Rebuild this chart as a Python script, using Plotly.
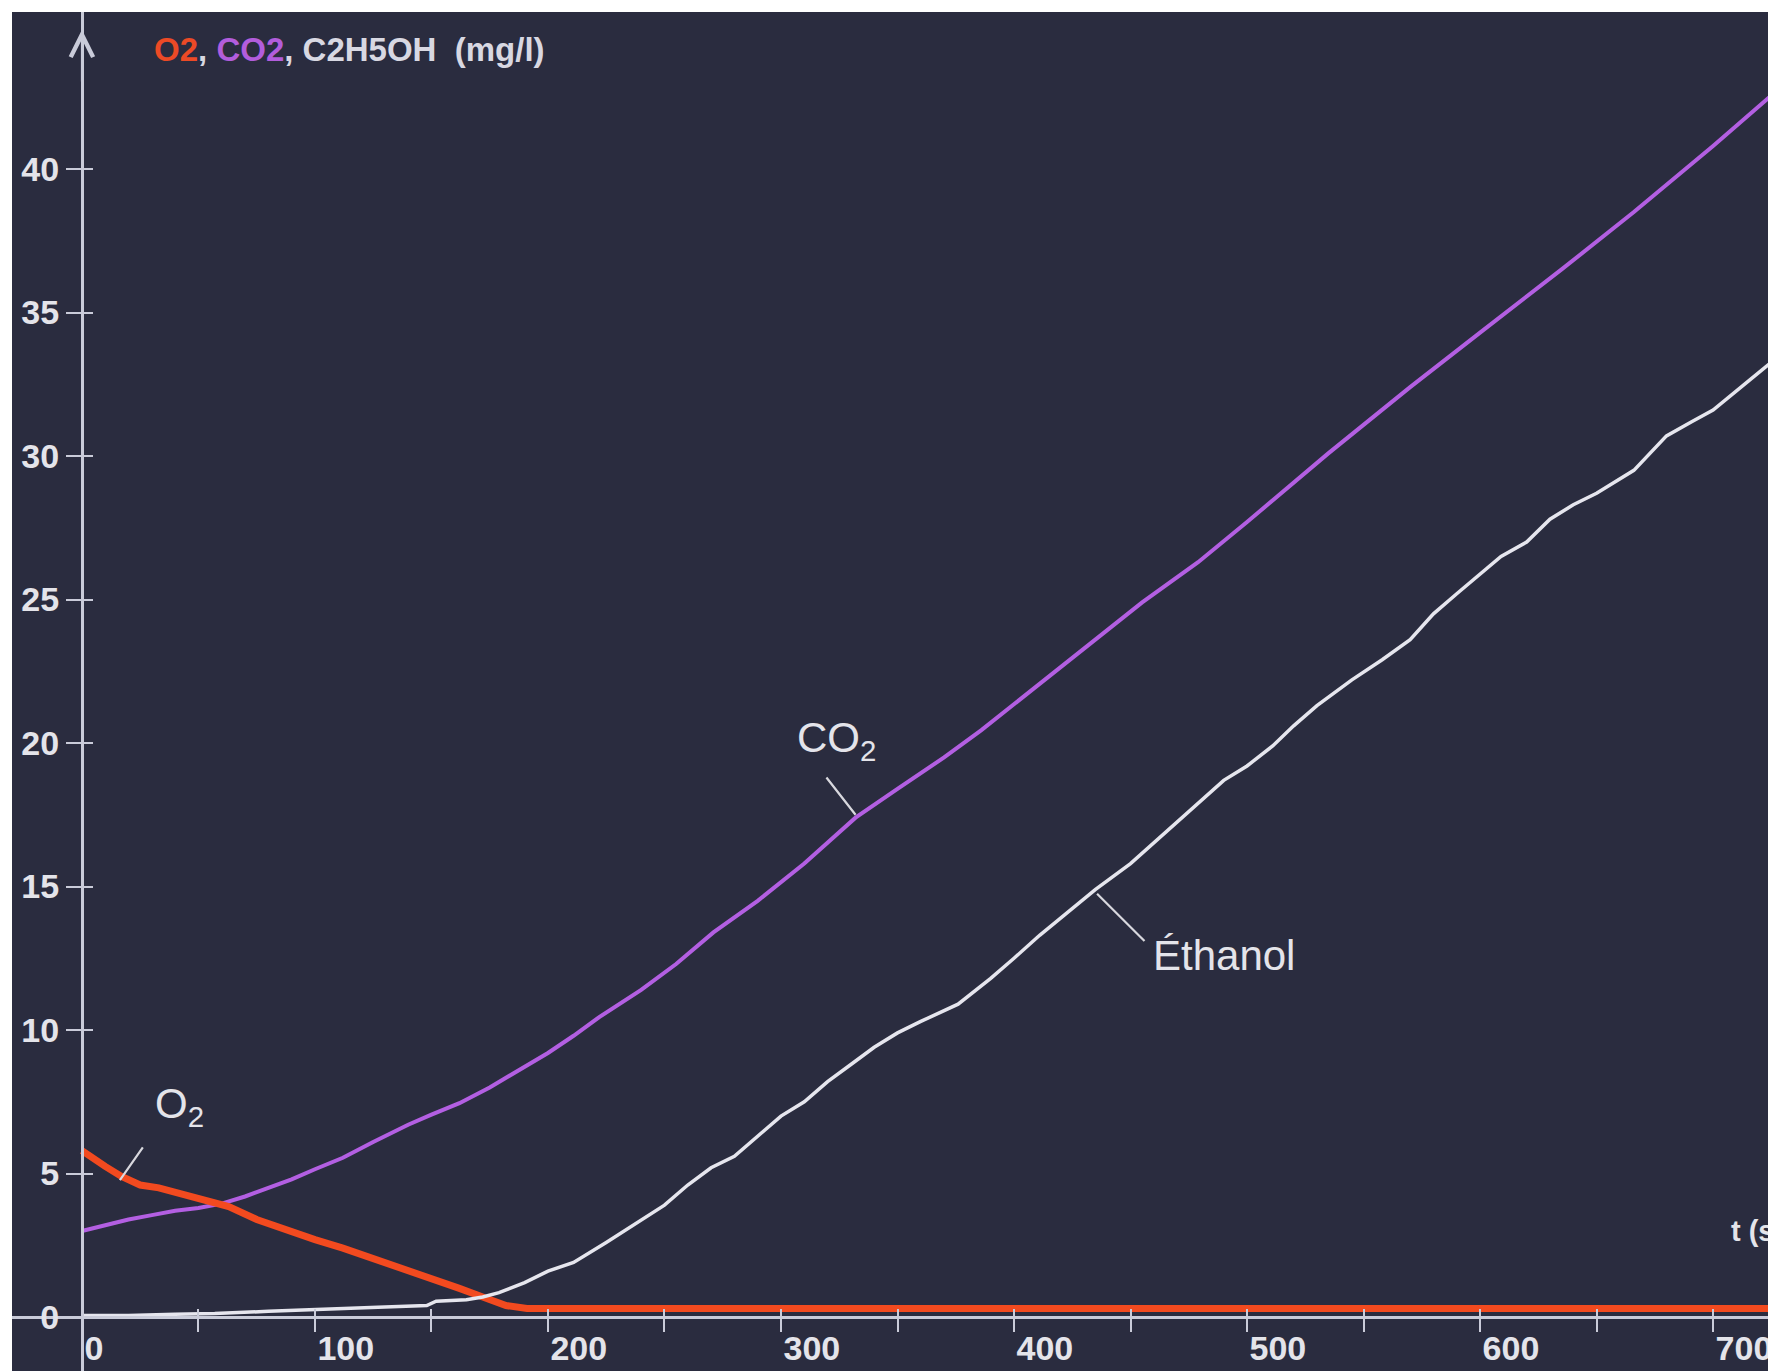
import plotly.graph_objects as go

# ---------------- data ----------------
t_co2 = [0, 10, 20, 30, 40, 50, 60, 70, 80, 90, 100, 112, 125, 140, 150, 162, 175, 190, 200, 211,
         222, 240, 255, 271, 290, 310, 332, 350, 370, 386, 410, 435, 455, 479, 500, 535, 570, 600,
         635, 666, 700, 727]
co2 = [3.0, 3.2, 3.4, 3.55, 3.7, 3.8, 3.95, 4.2, 4.5, 4.8, 5.15, 5.55, 6.1, 6.7, 7.05, 7.45, 8.0, 8.7,
       9.2, 9.8, 10.45, 11.4, 12.3, 13.4, 14.5, 15.8, 17.4, 18.4, 19.5, 20.45, 22.0, 23.6, 24.9, 26.3,
       27.7, 30.1, 32.4, 34.3, 36.5, 38.5, 40.8, 42.7]

t_o2 = [0, 5, 10, 17, 25, 33, 40, 50, 58, 63, 75, 90, 100, 112, 125, 140, 150, 162, 172, 182,
        191, 200, 300, 400, 500, 600, 700, 727]
o2 = [5.8, 5.5, 5.25, 4.9, 4.6, 4.5, 4.35, 4.15, 3.95, 3.85, 3.4, 2.95, 2.7, 2.4, 2.05, 1.65, 1.35,
      1.0, 0.7, 0.4, 0.3, 0.3, 0.3, 0.3, 0.3, 0.3, 0.3, 0.3]

t_eth = [0, 20, 40, 57, 80, 100, 115, 130, 148, 152, 165, 172, 179, 190, 200, 211, 225, 240, 250, 260,
         270, 280, 290, 300, 310, 320, 330, 340, 350, 360, 376, 390, 400, 411, 420, 435, 450, 465, 479,
         490, 500, 511, 520, 530, 545, 558, 570, 580, 590, 600, 609, 620, 630, 640, 650, 666, 680, 691,
         700, 715, 727]
eth = [0.05, 0.05, 0.1, 0.12, 0.2, 0.25, 0.3, 0.35, 0.4, 0.55, 0.6, 0.7, 0.85, 1.2, 1.6, 1.9, 2.6, 3.4,
       3.9, 4.6, 5.2, 5.6, 6.3, 7.0, 7.5, 8.2, 8.8, 9.4, 9.9, 10.3, 10.9, 11.8, 12.5, 13.3, 13.9, 14.9,
       15.8, 16.9, 17.9, 18.7, 19.2, 19.9, 20.6, 21.3, 22.2, 22.9, 23.6, 24.5, 25.2, 25.9, 26.5, 27.0,
       27.8, 28.3, 28.7, 29.5, 30.7, 31.2, 31.6, 32.6, 33.4]

x_tickvals = [0, 100, 200, 300, 400, 500, 600, 700]
x_ticktext = ["0", "100", "200", "300", "400", "500", "600", "700"]
y_tickvals = [0, 5, 10, 15, 20, 25, 30, 35, 40]
y_ticktext = ["0", "5", "10", "15", "20", "25", "30", "35", "40"]

title_parts = [("O2", "#ec4a26"), (", ", "#d8d8e2"), ("CO2", "#b25ddc"),
               (", C2H5OH&nbsp;&nbsp;(mg/l)", "#d8d8e2")]
x_unit_label = "t (s)"

# ---------------- styling ----------------
X_RANGE = [-30, 727]
Y_RANGE = [-1.88, 45.47]
BG = "#2a2c3f"
AX = "#c9cbd9"
TXT = "#e4e4ea"
C_CO2 = "#b35fe2"
C_O2 = "#f24a1f"
C_ETH = "#e6e6ee"

pos_xaxis = (0 - Y_RANGE[0]) / (Y_RANGE[1] - Y_RANGE[0])
pos_yaxis = (0 - X_RANGE[0]) / (X_RANGE[1] - X_RANGE[0])

fig = go.Figure()
fig.add_trace(go.Scatter(x=t_co2, y=co2, mode="lines", line=dict(color=C_CO2, width=4), name="CO2"))
fig.add_trace(go.Scatter(x=t_o2, y=o2, mode="lines", line=dict(color=C_O2, width=7), name="O2"))
fig.add_trace(go.Scatter(x=t_eth, y=eth, mode="lines", line=dict(color=C_ETH, width=3.5), name="Éthanol"))
# empty helper trace so the overlay axes (upper/right halves of the crossing ticks) are drawn
fig.add_trace(go.Scatter(x=[None], y=[None], xaxis="x2", yaxis="y2", mode="lines",
                         showlegend=False, hoverinfo="skip"))

tickfont = dict(family="Liberation Sans", size=34, color=TXT, weight="bold")

fig.update_layout(
    width=1768, height=1363,
    margin=dict(l=4, r=0, t=4, b=0),
    paper_bgcolor="white", plot_bgcolor=BG,
    showlegend=False,
    xaxis=dict(range=X_RANGE, showgrid=False, zeroline=False,
               showline=True, linecolor=AX, linewidth=3,
               anchor="free", position=pos_xaxis,
               tickmode="array", tickvals=x_tickvals, ticktext=x_ticktext,
               ticks="outside", ticklen=13, tickwidth=2, tickcolor=AX,
               minor=dict(dtick=50, tick0=0, ticks="outside", ticklen=13, tickwidth=2, tickcolor=AX),
               ticklabelposition="outside right", ticklabelstandoff=0,
               tickfont=tickfont),
    yaxis=dict(range=Y_RANGE, showgrid=False, zeroline=False,
               showline=True, linecolor=AX, linewidth=3,
               anchor="free", position=pos_yaxis,
               tickmode="array", tickvals=y_tickvals, ticktext=y_ticktext,
               ticks="outside", ticklen=15, tickwidth=2, tickcolor=AX,
               tickfont=tickfont),
    xaxis2=dict(range=X_RANGE, overlaying="x", showgrid=False, zeroline=False, showline=False,
                anchor="free", position=pos_xaxis, side="bottom",
                tickmode="array", tickvals=x_tickvals, showticklabels=False,
                ticks="inside", ticklen=8, tickwidth=2, tickcolor=AX,
                minor=dict(dtick=50, tick0=0, ticks="inside", ticklen=8, tickwidth=2, tickcolor=AX)),
    yaxis2=dict(range=Y_RANGE, overlaying="y", showgrid=False, zeroline=False, showline=False,
                anchor="free", position=pos_yaxis, side="left",
                tickmode="array", tickvals=y_tickvals, showticklabels=False,
                ticks="inside", ticklen=10, tickwidth=2, tickcolor=AX),
)

# y-axis arrow head
fig.add_annotation(x=0, y=44.85, ax=0, ay=43.0, xref="x", yref="y", axref="x", ayref="y",
                   text="", showarrow=True, arrowhead=5, arrowsize=2.2, arrowwidth=2, arrowcolor=AX)

# title in the top-left corner
title_html = "".join(f"<span style='color:{c}'>{s}</span>" for s, c in title_parts)
fig.add_annotation(x=30, y=44.15, xref="x", yref="y", text=title_html, showarrow=False,
                   xanchor="left", yanchor="middle",
                   font=dict(family="Liberation Sans", size=33, color=TXT, weight="bold"))

# axis unit (partly cut by the right edge, as in the reference)
fig.add_annotation(x=707, y=3.0, xref="x", yref="y", text=x_unit_label, showarrow=False,
                   xanchor="left", yanchor="middle",
                   font=dict(family="Liberation Sans", size=29, color=TXT, weight="bold"))

# curve labels with leader lines
labels = [
    # text, text_x, text_y, anchor, leader_from (x, y), leader_to (x, y)
    ("CO<sub>2</sub>", 324, 20.1, "center", (319, 18.85), (332, 17.5)),
    ("Éthanol", 459, 12.6, "left", (435, 14.8), (456, 13.1)),
    ("O<sub>2</sub>", 42, 7.35, "center", (26.6, 5.96), (16.3, 4.77)),
]
for text, tx, ty, anc, (fx, fy), (ex, ey) in labels:
    fig.add_annotation(x=ex, y=ey, ax=fx, ay=fy, xref="x", yref="y", axref="x", ayref="y",
                       text="", showarrow=True, arrowhead=0, arrowwidth=2.2, arrowcolor="#d8d8de")
    fig.add_annotation(x=tx, y=ty, xref="x", yref="y", text=text, showarrow=False,
                       xanchor=anc, yanchor="middle",
                       font=dict(family="Liberation Sans", size=42, color=TXT))

fig.write_html("out.html")
